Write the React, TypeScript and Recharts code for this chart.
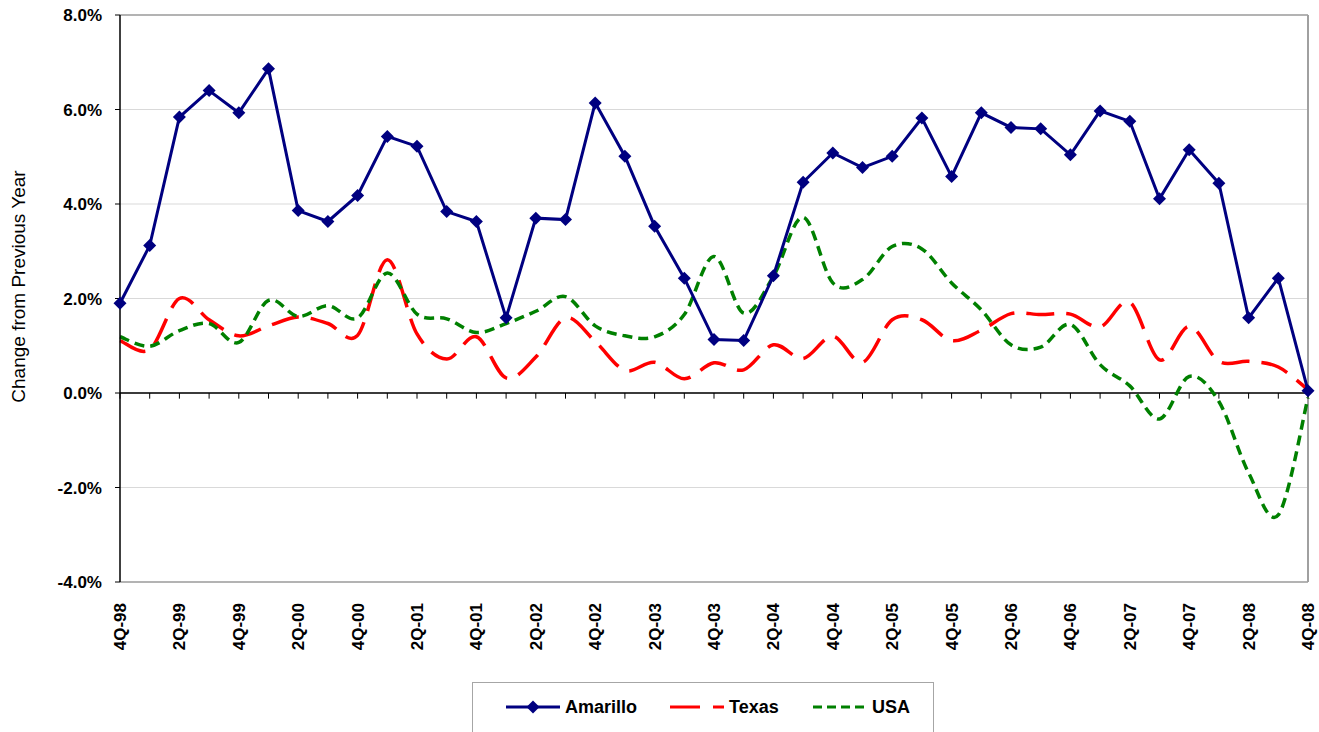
import React from "react";
import { LineChart, Line, XAxis, YAxis, CartesianGrid, ReferenceLine } from "recharts";

const quarters = [
  "4Q-98",
  "1Q-99", "2Q-99", "3Q-99", "4Q-99",
  "1Q-00", "2Q-00", "3Q-00", "4Q-00",
  "1Q-01", "2Q-01", "3Q-01", "4Q-01",
  "1Q-02", "2Q-02", "3Q-02", "4Q-02",
  "1Q-03", "2Q-03", "3Q-03", "4Q-03",
  "1Q-04", "2Q-04", "3Q-04", "4Q-04",
  "1Q-05", "2Q-05", "3Q-05", "4Q-05",
  "1Q-06", "2Q-06", "3Q-06", "4Q-06",
  "1Q-07", "2Q-07", "3Q-07", "4Q-07",
  "1Q-08", "2Q-08", "3Q-08", "4Q-08",
];

const amarillo = [
  1.9, 3.12, 5.84, 6.4, 5.93, 6.86, 3.86, 3.63, 4.18, 5.43, 5.22, 3.84, 3.63, 1.59, 3.7, 3.67, 6.14,
  5.01, 3.53, 2.43, 1.13, 1.11, 2.48, 4.46, 5.08, 4.77, 5.01, 5.82, 4.58, 5.93, 5.62, 5.59, 5.04,
  5.97, 5.75, 4.11, 5.15, 4.44, 1.59, 2.43, 0.05,
];

const texas = [
  1.11, 0.92, 2.0, 1.55, 1.21, 1.42, 1.61, 1.47, 1.22, 2.82, 1.25, 0.72, 1.19, 0.32, 0.76, 1.59, 1.09,
  0.48, 0.65, 0.3, 0.64, 0.49, 1.02, 0.73, 1.2, 0.65, 1.55, 1.55, 1.11, 1.33, 1.68, 1.66, 1.67, 1.4,
  1.92, 0.7, 1.41, 0.67, 0.67, 0.55, 0.07,
];

const usa = [
  1.19, 0.99, 1.32, 1.47, 1.07, 1.96, 1.62, 1.85, 1.59, 2.54, 1.67, 1.57, 1.28, 1.47, 1.73, 2.04, 1.42,
  1.21, 1.19, 1.66, 2.89, 1.69, 2.47, 3.72, 2.33, 2.4, 3.1, 3.05, 2.33, 1.76, 1.02, 0.97, 1.45, 0.6,
  0.15, -0.55, 0.35, -0.18, -1.69, -2.58, -0.1,
];

const yTicks = [-4, -2, 0, 2, 4, 6, 8];

const FONT = "'Liberation Sans', Arial, sans-serif";
const NAVY = "#000080";
const RED = "#ff0000";
const GREEN = "#008000";

const chartData = quarters.map((q, i) => ({
  q,
  amarillo: amarillo[i],
  texas: texas[i],
  usa: usa[i],
}));

// Excel-style smoothed line: cubic Bezier through every point (Catmull-Rom tangents)
const smoothCurve = (context: any) => {
  let pts: [number, number][] = [];
  return {
    areaStart() {},
    areaEnd() {},
    lineStart() {
      pts = [];
    },
    point(x: number, y: number) {
      pts.push([+x, +y]);
    },
    lineEnd() {
      if (!pts.length) return;
      context.moveTo(pts[0][0], pts[0][1]);
      for (let i = 0; i < pts.length - 1; i++) {
        const p0 = pts[Math.max(0, i - 1)];
        const p1 = pts[i];
        const p2 = pts[i + 1];
        const p3 = pts[Math.min(pts.length - 1, i + 2)];
        context.bezierCurveTo(
          p1[0] + (p2[0] - p0[0]) / 6,
          p1[1] + (p2[1] - p0[1]) / 6,
          p2[0] - (p3[0] - p1[0]) / 6,
          p2[1] - (p3[1] - p1[1]) / 6,
          p2[0],
          p2[1]
        );
      }
    },
  };
};

const Diamond = (props: any) => {
  const { cx, cy } = props;
  if (cx == null || cy == null) return null;
  const r = 6.5;
  return (
    <polygon
      points={`${cx},${cy - r} ${cx + r},${cy} ${cx},${cy + r} ${cx - r},${cy}`}
      fill={NAVY}
    />
  );
};

const QuarterTick = (props: any) => {
  const { x, y, payload } = props;
  return (
    <text
      x={x}
      y={y}
      dy="0.35em"
      transform={`rotate(-90 ${x} ${y})`}
      textAnchor="end"
      fontFamily={FONT}
      fontWeight="bold"
      fontSize={17}
      fill="#000"
    >
      {payload.value}
    </text>
  );
};

const AxisTitle = (props: any) => {
  const vb = props.viewBox || { x: 0, y: 0, height: 0 };
  const x = vb.x + 18;
  const y = vb.y + vb.height / 2 - 12;
  return (
    <text
      x={x}
      y={y}
      dy="0.35em"
      transform={`rotate(-90 ${x} ${y})`}
      textAnchor="middle"
      fontFamily={FONT}
      fontSize={19}
      fill="#000"
    >
      Change from Previous Year
    </text>
  );
};

const legendItems = [
  { name: "Amarillo", color: NAVY, dash: undefined as string | undefined, marker: true, x: 33, textX: 92 },
  { name: "Texas", color: RED, dash: "30 13", marker: false, x: 197, textX: 256 },
  { name: "USA", color: GREEN, dash: "9 5", marker: false, x: 340, textX: 399 },
];

function ChartLegend() {
  return (
    <div
      style={{
        position: "absolute",
        left: 472,
        top: 682,
        width: 462,
        height: 70,
        border: "1px solid #a6a6a6",
        boxSizing: "border-box",
        background: "#fff",
      }}
    >
      <svg width={460} height={68}>
        {legendItems.map((it) => (
          <g key={it.name}>
            <line
              x1={it.x}
              x2={it.x + 54}
              y1={24}
              y2={24}
              stroke={it.color}
              strokeWidth={3}
              strokeDasharray={it.dash}
            />
            {it.marker && <Diamond cx={it.x + 27} cy={24} />}
            <text
              x={it.textX}
              y={24}
              dy="0.35em"
              fontFamily={FONT}
              fontWeight="bold"
              fontSize={18}
              fill="#000"
            >
              {it.name}
            </text>
          </g>
        ))}
      </svg>
    </div>
  );
}

export default function App() {
  return (
    <div style={{ position: "absolute", left: 0, top: 0, width: 1319, height: 732, background: "#fff" }}>
      <LineChart
        width={1319}
        height={732}
        data={chartData}
        margin={{ top: 15, right: 11, left: 0, bottom: 90 }}
      >
        <CartesianGrid horizontal vertical={false} stroke="#d9d9d9" strokeWidth={1} />
        <XAxis
          dataKey="q"
          height={60}
          interval={1}
          axisLine={false}
          tickLine={false}
          tickMargin={15}
          tick={<QuarterTick />}
        />
        <YAxis
          width={120}
          domain={[-4, 8]}
          ticks={yTicks}
          interval={0}
          allowDataOverflow
          axisLine={{ stroke: "#000", strokeWidth: 1.5 }}
          tickLine={{ stroke: "#000" }}
          tickSize={5}
          tickMargin={13}
          tickFormatter={(v: number) => `${v.toFixed(1)}%`}
          tick={{ fontFamily: FONT, fontWeight: "bold", fontSize: 17, fill: "#000" }}
          label={{ content: AxisTitle }}
        />
        <ReferenceLine y={8} stroke="#a0a0a0" strokeWidth={1.5} />
        <ReferenceLine y={-4} stroke="#a0a0a0" strokeWidth={1.5} />
        <ReferenceLine x={quarters[quarters.length - 1]} stroke="#a0a0a0" strokeWidth={2} />
        <ReferenceLine y={0} stroke="#000" strokeWidth={1.5} />
        {quarters.map((q) => (
          <ReferenceLine
            key={q}
            segment={[
              { x: q, y: 0 },
              { x: q, y: -0.12 },
            ]}
            stroke="#000"
            strokeWidth={1}
          />
        ))}
        <Line
          dataKey="texas"
          name="Texas"
          type={smoothCurve as any}
          stroke={RED}
          strokeWidth={3.5}
          strokeDasharray="28 12"
          dot={false}
          isAnimationActive={false}
        />
        <Line
          dataKey="usa"
          name="USA"
          type={smoothCurve as any}
          stroke={GREEN}
          strokeWidth={3.5}
          strokeDasharray="10 6"
          dot={false}
          isAnimationActive={false}
        />
        <Line
          dataKey="amarillo"
          name="Amarillo"
          type="linear"
          stroke={NAVY}
          strokeWidth={3}
          dot={<Diamond />}
          isAnimationActive={false}
        />
      </LineChart>
      <ChartLegend />
    </div>
  );
}
